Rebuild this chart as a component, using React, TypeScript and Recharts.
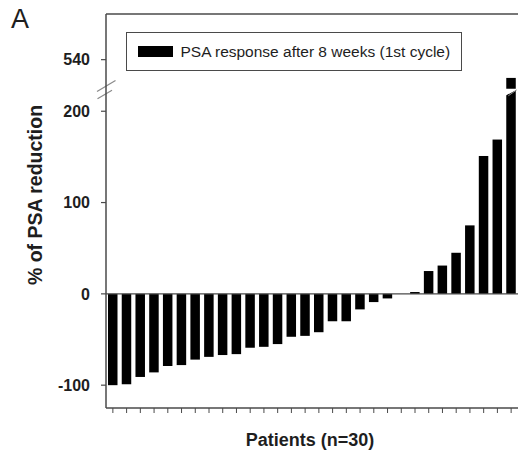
import React from 'react';
import { BarChart, Bar, XAxis, YAxis, ReferenceLine, ReferenceArea, Legend } from 'recharts';

const patients = [
  'P1', 'P2', 'P3', 'P4', 'P5', 'P6', 'P7', 'P8', 'P9', 'P10',
  'P11', 'P12', 'P13', 'P14', 'P15', 'P16', 'P17', 'P18', 'P19', 'P20',
  'P21', 'P22', 'P23', 'P24', 'P25', 'P26', 'P27', 'P28', 'P29', 'P30',
];
const psaChange = [
  -100, -99, -91, -86, -79, -78, -72, -69, -67, -66,
  -59, -58, -55, -47, -46, -42, -30, -30, -17, -9,
  -5, 0, 2, 25, 31, 45, 75, 151, 169, 520,
];
const yTickValues = [-100, 0, 100, 200, 540];
const seriesName = 'PSA response after 8 weeks (1st cycle)';
const yTitle = '% of PSA reduction';
const xTitle = 'Patients (n=30)';
const panelLetter = 'A';

// broken axis: values up to breakLow shown as-is, values from breakHigh shown above a small gap
const breakLow = 218;
const breakHigh = 508;
const gapUnits = 6.5;
const yMin = -125;
const yMaxReal = 590;

const toAxis = (v: number) => (v <= breakLow ? v : v - breakHigh + breakLow + gapUnits);
const fromAxis = (t: number) => (t <= breakLow ? t : t + breakHigh - breakLow - gapUnits);

const data = patients.map((p, i) => ({ patient: p, value: psaChange[i] }));

const FONT = '"Liberation Sans", Arial, Helvetica, sans-serif';
const AX = '#4a4a4a';
const TXT = '#1e1e1e';

const BarShape = (props: any) => {
  const { x, y, width, height, payload } = props;
  const yy = height < 0 ? y + height : y;
  const hh = Math.abs(height);
  const rect = <rect x={x} y={yy} width={width} height={hh} fill="#000" />;
  if (!payload || payload.value <= breakLow || height <= 0) return rect;
  const t = toAxis(payload.value);
  const ppu = height / t;
  const zeroY = y + height;
  const yLow = zeroY - breakLow * ppu;
  const yHigh = zeroY - (breakLow + gapUnits) * ppu;
  return (
    <g>
      {rect}
      <polygon
        points={`${x - 1},${yHigh} ${x + width + 1},${yHigh} ${x + width + 1},${yHigh + 1} ${x - 1},${yLow + 1}`}
        fill="#fff"
      />
      <line x1={x + 2} y1={yLow + 1} x2={x + width + 1} y2={yHigh + 1} stroke="#888" strokeWidth={1} />
    </g>
  );
};

const AxisBreak = (props: any) => {
  const { x, y, height } = props;
  const yTop = y;
  const yBot = y + height;
  return (
    <g>
      <line x1={x - 9} y1={yTop + 2.7} x2={x + 9.5} y2={yTop - 8.3} stroke="#8a8a8a" strokeWidth={1.2} />
      <line x1={x - 8.5} y1={yBot + 4} x2={x + 6} y2={yBot - 4.5} stroke="#8a8a8a" strokeWidth={1.2} />
    </g>
  );
};

const LegendBox = (props: any) => {
  const item = props.payload && props.payload[0];
  return (
    <div
      style={{
        boxSizing: 'border-box',
        width: 336,
        height: 39,
        border: `1.5px solid ${AX}`,
        background: '#fff',
        display: 'flex',
        alignItems: 'center',
        fontFamily: FONT,
        fontSize: 15.5,
        color: TXT,
        whiteSpace: 'nowrap',
      }}
    >
      <div style={{ width: 35, height: 11, background: '#000', marginLeft: 10.5, marginRight: 8 }} />
      <span>{item ? item.value : seriesName}</span>
    </div>
  );
};

const YLabel = (props: any) => {
  const vb = props.viewBox || { x: 0, y: 14, width: 106, height: 394 };
  const cx = vb.x + 41.5;
  const cy = vb.y + vb.height / 2 - 16;
  return (
    <text
      x={cx}
      y={cy}
      transform={`rotate(-90 ${cx} ${cy})`}
      textAnchor="middle"
      fontFamily={FONT}
      fontWeight="bold"
      fontSize={19.5}
      fill={TXT}
    >
      {yTitle}
    </text>
  );
};

const XLabel = (props: any) => {
  const vb = props.viewBox || { x: 106, y: 408, width: 412, height: 44 };
  const cx = vb.x + vb.width / 2 - 2;
  const cy = vb.y + 38;
  return (
    <text x={cx} y={cy} textAnchor="middle" fontFamily={FONT} fontWeight="bold" fontSize={18} fill={TXT}>
      {xTitle}
    </text>
  );
};

export default function App() {
  return (
    <div style={{ position: 'absolute', left: 0, top: 0, width: 518, height: 452, background: '#fff', overflow: 'hidden' }}>
      <div
        style={{
          position: 'absolute',
          left: 11,
          top: 6,
          fontFamily: FONT,
          fontSize: 27,
          lineHeight: '27px',
          color: TXT,
          zIndex: 2,
        }}
      >
        {panelLetter}
      </div>
      <BarChart
        width={518}
        height={452}
        data={data}
        margin={{ top: 14, right: 0, bottom: 0, left: 0 }}
        barSize={9.5}
      >
        <XAxis
          dataKey="patient"
          height={44}
          interval={0}
          tickSize={5}
          tickFormatter={() => ''}
          axisLine={{ stroke: AX, strokeWidth: 1.5 }}
          tickLine={{ stroke: AX, strokeWidth: 1 }}
          label={XLabel}
        />
        <YAxis
          type="number"
          width={106}
          domain={[yMin, toAxis(yMaxReal)]}
          allowDataOverflow
          ticks={yTickValues.map(toAxis)}
          tickFormatter={(t: number) => String(Math.round(fromAxis(t)))}
          tickSize={5}
          tickMargin={11}
          axisLine={{ stroke: AX, strokeWidth: 1.5 }}
          tickLine={{ stroke: AX, strokeWidth: 1.2 }}
          tick={{ fill: TXT, fontSize: 16, fontWeight: 'bold', fontFamily: FONT }}
          label={YLabel}
        />
        <ReferenceLine y={toAxis(yMaxReal)} stroke={AX} strokeWidth={1.5} />
        <ReferenceLine y={0} stroke={AX} strokeWidth={1.2} />
        <Bar
          dataKey={(d: any) => toAxis(d.value)}
          name={seriesName}
          fill="#000"
          isAnimationActive={false}
          shape={BarShape}
        />
        <ReferenceArea
          y1={breakLow}
          y2={breakLow + gapUnits}
          ifOverflow="visible"
          shape={AxisBreak}
        />
        <Legend
          layout="horizontal"
          verticalAlign="middle"
          align="center"
          wrapperStyle={{ left: 126, top: 32, width: 336, height: 39 }}
          content={LegendBox}
        />
      </BarChart>
    </div>
  );
}
